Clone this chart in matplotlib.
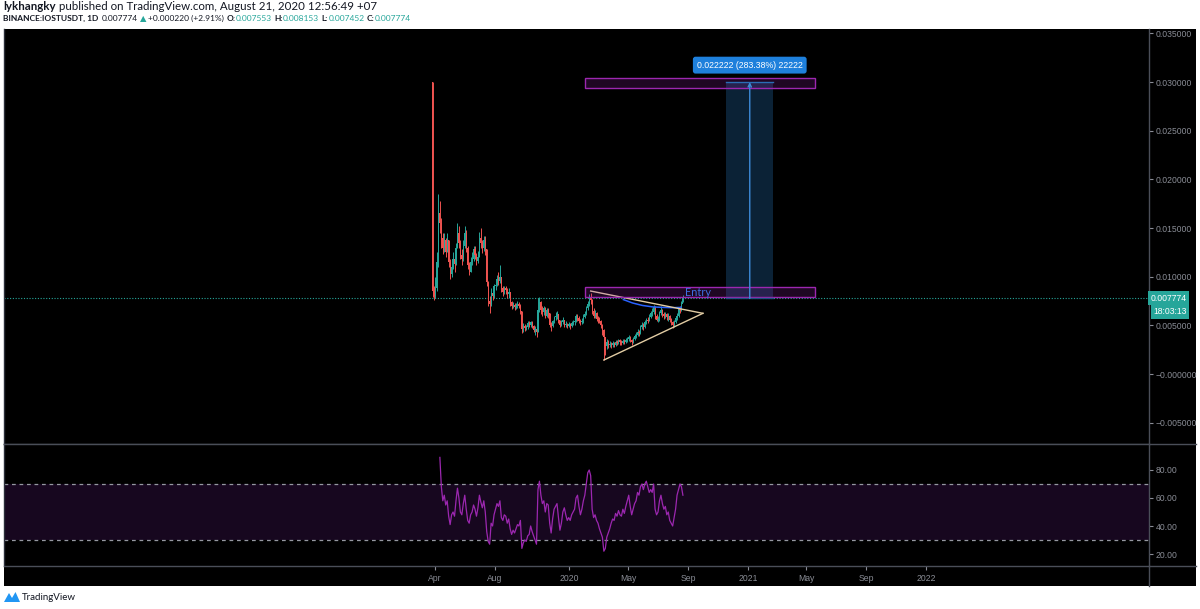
import numpy as np
import pandas as pd
import matplotlib
matplotlib.use("Agg")
import matplotlib.pyplot as plt
import matplotlib.dates as mdates
from matplotlib.patches import Rectangle, Polygon
from matplotlib.transforms import blended_transform_factory

plt.rcParams['font.family'] = ['Lato', 'DejaVu Sans']

# ------------------------------------------------------------------ data
author_line = ("lykhangky", " published on TradingView.com, August 21, 2020 12:56:49 +07")
symbol = "BINANCE:IOSTUSDT, 1D"
last_price = 0.007774
change_txt = "+0.000220 (+2.91%)"
ohlc_txt = [("O:", "0.007553"), ("H:", "0.008153"), ("L:", "0.007452"), ("C:", "0.007774")]
countdown = "18:03:13"

last_date = "2020-08-21"
n_step_days = 3                      # each drawn candle summarises 3 days
first_open_m = 30.0                  # prices in thousandths of USDT
close_m = [8.5, 8.0, 8.8, 11.5, 16.5, 15.5, 14.0, 13.0, 13.8, 12.5,
           13.8, 11.5, 10.3, 11.0, 11.8, 11.3, 13.0, 14.5, 13.5, 12.2,
           11.8, 13.2, 14.5, 13.0, 11.2, 10.5, 11.5, 11.8, 12.8, 12.2,
           11.6, 12.0, 14.0, 13.5, 13.0, 13.8, 12.8, 9.5, 7.5, 7.2,
           8.3, 8.0, 9.0, 9.2, 9.8, 9.6, 10.0, 8.8, 8.4, 8.8,
           8.6, 8.2, 8.4, 7.4, 7.0, 7.1, 6.9, 7.0, 7.2, 7.0,
           6.5, 4.6, 4.9, 4.7, 4.8, 5.2, 5.0, 5.3, 4.9, 4.5,
           4.6, 4.3, 6.6, 7.4, 6.6, 6.4, 6.8, 6.0, 6.6, 6.3,
           5.0, 4.9, 5.4, 5.9, 6.0, 6.2, 5.6, 5.0, 5.3, 5.6,
           5.0, 5.1, 4.9, 5.1, 4.9, 5.2, 5.3, 5.5, 6.0, 5.8,
           5.5, 5.3, 5.4, 5.9, 6.2, 6.8, 7.2, 7.8, 7.6, 6.5,
           6.0, 6.3, 5.7, 5.6, 5.4, 5.0, 4.5, 3.8, 2.9, 3.3,
           3.0, 3.1, 3.0, 3.2, 3.0, 3.3, 3.2, 3.5, 3.3, 3.2,
           3.4, 3.3, 3.5, 3.6, 3.8, 3.5, 3.3, 3.6, 3.9, 4.0,
           4.3, 4.2, 4.8, 5.0, 4.8, 5.3, 5.6, 5.5, 5.9, 6.3,
           6.4, 6.9, 6.0, 5.6, 5.7, 6.3, 6.6, 6.2, 6.0, 6.2,
           5.9, 6.0, 5.6, 5.3, 5.0, 5.3, 5.8, 6.0, 6.7, 6.6,
           7.2, 7.774]
high_m = [30.0, 9.0, 10.0, 12.5, 18.5, 17.8, 16.0, 14.5, 14.5, 14.0,
          14.5, 13.8, 11.8, 11.8, 12.5, 12.2, 13.5, 15.5, 15.2, 13.8,
          12.8, 13.8, 15.2, 14.8, 13.2, 11.5, 12.0, 12.5, 13.2, 13.2,
          12.4, 12.6, 14.6, 15.0, 13.8, 14.2, 14.2, 12.8, 9.6, 8.0,
          8.8, 8.6, 9.3, 9.6, 10.2, 10.5, 11.2, 10.0, 9.0, 9.0,
          9.0, 8.8, 8.8, 8.4, 7.5, 7.4, 7.3, 7.3, 7.5, 7.4,
          7.2, 6.5, 5.2, 5.1, 5.0, 5.4, 5.4, 5.5, 5.4, 5.0,
          4.9, 4.8, 7.8, 7.9, 7.5, 7.0, 7.0, 6.9, 6.8, 6.8,
          6.3, 5.3, 5.6, 6.0, 6.4, 6.5, 6.2, 5.6, 5.6, 5.9,
          5.6, 5.4, 5.2, 5.3, 5.2, 5.4, 5.6, 5.7, 6.2, 6.2,
          6.0, 5.7, 5.8, 6.2, 6.5, 7.0, 7.5, 8.2, 8.3, 7.7,
          6.8, 6.6, 6.4, 6.0, 5.9, 5.6, 5.1, 4.6, 3.8, 3.6,
          3.5, 3.4, 3.3, 3.4, 3.3, 3.5, 3.5, 3.6, 3.6, 3.5,
          3.6, 3.6, 3.7, 3.8, 4.0, 3.9, 3.6, 3.8, 4.1, 4.3,
          4.6, 4.5, 5.0, 5.3, 5.2, 5.6, 5.8, 5.9, 6.2, 6.5,
          6.8, 7.1, 7.0, 6.2, 6.0, 6.5, 7.0, 6.7, 6.4, 6.4,
          6.3, 6.3, 6.1, 5.8, 5.5, 5.6, 6.0, 6.3, 6.9, 7.0,
          7.5, 8.153]
low_m = [7.9, 7.6, 7.8, 8.5, 11.0, 14.5, 13.0, 12.3, 12.5, 12.0,
         12.5, 11.0, 9.8, 10.0, 10.8, 10.5, 11.2, 13.0, 13.0, 11.8,
         11.2, 11.6, 13.0, 12.5, 10.8, 10.2, 10.5, 11.2, 11.6, 11.8,
         11.2, 11.4, 12.0, 13.0, 12.4, 12.6, 12.2, 9.0, 7.0, 6.3,
         7.0, 7.6, 7.8, 8.6, 9.0, 9.2, 9.4, 8.4, 8.0, 8.2,
         8.2, 7.8, 7.8, 7.0, 6.7, 6.8, 6.6, 6.7, 6.8, 6.8,
         6.2, 4.2, 4.3, 4.4, 4.5, 4.6, 4.8, 4.8, 4.7, 4.3,
         4.0, 3.8, 4.3, 6.4, 6.2, 6.0, 6.1, 5.8, 5.9, 5.8,
         4.8, 4.4, 4.8, 5.2, 5.6, 5.7, 5.2, 4.8, 4.9, 5.1,
         4.8, 4.8, 4.7, 4.8, 4.6, 4.8, 5.0, 5.0, 5.3, 5.4,
         5.2, 5.0, 5.1, 5.2, 5.8, 6.1, 6.6, 7.0, 7.2, 6.2,
         5.8, 5.8, 5.4, 5.2, 5.2, 4.7, 4.0, 1.4, 2.0, 2.6,
         2.7, 2.8, 2.7, 2.8, 2.8, 2.9, 3.0, 3.1, 3.0, 3.0,
         3.1, 3.1, 3.2, 3.3, 3.4, 3.3, 3.0, 3.2, 3.5, 3.7,
         3.9, 3.9, 4.1, 4.6, 4.5, 4.7, 5.1, 5.2, 5.4, 5.8,
         6.0, 6.2, 5.7, 5.4, 5.3, 5.5, 6.1, 5.9, 5.7, 5.8,
         5.6, 5.5, 5.3, 5.0, 4.7, 4.8, 5.2, 5.6, 5.9, 6.3,
         6.5, 7.452]

rsi_first_candle = 5
rsi_vals = [89, 68, 58, 62, 55,
            58, 47, 41, 48, 50, 47, 58, 67, 60, 50,
            48, 56, 62, 52, 44, 42, 48, 50, 55, 52,
            47, 53, 62, 57, 53, 58, 50, 36, 29, 27,
            42, 40, 48, 52, 56, 54, 58, 46, 44, 48,
            47, 42, 45, 38, 34, 37, 35, 38, 41, 40,
            44, 24, 28, 30, 29, 33, 34, 40, 36, 33,
            30, 27, 66, 72, 62, 56, 58, 50, 56, 55,
            42, 35, 45, 52, 54, 56, 46, 37, 42, 50,
            53, 48, 44, 46, 44, 48, 50, 52, 60, 62,
            54, 48, 52, 58, 62, 70, 78, 80, 76, 52,
            46, 48, 44, 42, 38, 35, 32, 22, 24, 32,
            35, 38, 42, 45, 44, 49, 47, 51, 48, 47,
            52, 49, 54, 58, 62, 54, 48, 52, 56, 58,
            64, 62, 68, 70, 66, 70, 72, 68, 64, 66,
            64, 70, 52, 48, 50, 58, 62, 56, 52, 54,
            48, 50, 44, 42, 40, 46, 52, 62, 66, 70,
            68, 62]
rsi_upper, rsi_lower = 70, 30

ma_dates = ['2020-04-21', '2020-05-10', '2020-05-30', '2020-06-20', '2020-07-10', '2020-07-30', '2020-08-17']
ma_vals_m = [7.65, 7.3, 7.05, 6.9, 6.85, 6.82, 6.85]

tri_upper = [('2020-02-14', 8.53), ('2020-10-01', 6.24)]
tri_lower = [('2020-03-12', 1.44), ('2020-10-01', 6.24)]
zone_low = ('2020-02-02', '2021-05-19', 7.94, 8.91)
zone_high = ('2020-02-02', '2021-05-19', 29.42, 30.39)
measure = ('2020-11-17', '2021-02-22', '2021-01-05', 7.774, 29.996)
measure_txt = "0.022222 (283.38%) 22222"
entry_txt = ("2020-08-25", 8.36, "Entry")

price_ticks = [-0.005, 0.0, 0.005, 0.010, 0.015, 0.020, 0.025, 0.030, 0.035]
price_labels = ["\u22120.005000", "\u22120.000000", "0.005000", "0.010000", "0.015000",
                "0.020000", "0.025000", "0.030000", "0.035000"]
rsi_ticks = [20, 40, 60, 80]
rsi_labels = ["20.00", "40.00", "60.00", "80.00"]
time_ticks = ['2019-04-01', '2019-08-01', '2020-01-01', '2020-05-01', '2020-09-01',
              '2021-01-01', '2021-05-01', '2021-09-01', '2022-01-01']
time_labels = ['Apr', 'Aug', '2020', 'May', 'Sep', '2021', 'May', 'Sep', '2022']

# ------------------------------------------------------------------ helpers
W, H = 1200, 609
fig = plt.figure(figsize=(W / 100, H / 100), dpi=100)
fig.patch.set_facecolor('white')

def fx(px):
    return px / W

def fy(py):
    return 1 - py / H

UP, DOWN = '#26a69a', '#ef5350'
GRID = '#4a4e58'
AXTXT = '#8a8d96'
DARK = '#131722'
AXFONT = ['Liberation Sans', 'DejaVu Sans']

# black chart panel (behind the axes)
fig.patches.append(Rectangle((fx(4), fy(586)), fx(1196) - fx(4), fy(29) - fy(586),
                             transform=fig.transFigure, facecolor='black', edgecolor='none', zorder=-10))

L, R = 4, 1149
ax = fig.add_axes([fx(L), fy(444), fx(R) - fx(L), fy(29) - fy(444)])
axr = fig.add_axes([fx(L), fy(566), fx(R) - fx(L), fy(444) - fy(566)], sharex=ax)
for a in (ax, axr):
    a.set_facecolor('black')
    for s in a.spines.values():
        s.set_color(GRID)
        s.set_linewidth(1)
    a.spines['left'].set_color('#2a2e39')
ax.spines['top'].set_visible(False)
axr.spines['top'].set_visible(True)

# x scale: Apr 1 2019 sits at pixel 435, 0.488 px per day
anchor = mdates.date2num(pd.Timestamp('2019-04-01'))
ppd = 0.488
ax.set_xlim(anchor - (435 - L) / ppd, anchor + (R - 435) / ppd)

# ------------------------------------------------------------------ candles
n = len(close_m)
dates = pd.date_range(end=last_date, periods=n, freq=f'{n_step_days}D')
dn = mdates.date2num(dates)
c = np.array(close_m) * 1e-3
hi = np.array(high_m) * 1e-3
lo = np.array(low_m) * 1e-3
o = np.concatenate([[first_open_m * 1e-3], c[:-1]])
cols = np.where(c >= o, UP, DOWN)
ax.vlines(dn, lo, hi, colors=cols, linewidth=0.7, zorder=3)
ax.bar(dn, np.maximum(np.abs(c - o), 0.00005), bottom=np.minimum(o, c), width=2.3,
       color=cols, linewidth=0, zorder=3)

ax.plot(mdates.date2num(pd.to_datetime(ma_dates)), np.array(ma_vals_m) * 1e-3,
        color='#2962ff', lw=1.1, zorder=4)

# triangle
for seg in (tri_upper, tri_lower):
    xs = mdates.date2num(pd.to_datetime([p[0] for p in seg]))
    ys = np.array([p[1] for p in seg]) * 1e-3
    ax.plot(xs, ys, color='#e3cda4', lw=1.0, zorder=5)

# zones
for z in (zone_low, zone_high):
    x0, x1 = mdates.date2num(pd.to_datetime([z[0], z[1]]))
    ax.add_patch(Rectangle((x0, z[2] * 1e-3), x1 - x0, (z[3] - z[2]) * 1e-3,
                           facecolor=(0.61, 0.15, 0.69, 0.2), edgecolor='#9c27b0', lw=1.0, zorder=6))

# measurement
m0, m1, mc = mdates.date2num(pd.to_datetime([measure[0], measure[1], measure[2]]))
ax.add_patch(Rectangle((m0, measure[3] * 1e-3), m1 - m0, (measure[4] - measure[3]) * 1e-3,
                       facecolor='#0b2236', edgecolor='none', zorder=2))
ax.plot([m0, m1], [measure[4] * 1e-3] * 2, color='#2a6db5', lw=1, zorder=7)
ax.plot([m0, m1], [measure[3] * 1e-3] * 2, color='#1d4f80', lw=1, zorder=7)
ax.annotate('', xy=(mc, measure[4] * 1e-3), xytext=(mc, measure[3] * 1e-3),
            arrowprops=dict(arrowstyle='->', color='#3d8ad8', lw=1.0, shrinkA=0, shrinkB=0,
                            mutation_scale=6), zorder=7)
ax.text(mc, measure[4] * 1e-3 + 0.00175, measure_txt, ha='center', va='center', color='white',
        fontsize=6.3, family=AXFONT, zorder=8,
        bbox=dict(boxstyle='round,pad=0.45,rounding_size=0.3', facecolor='#1e80dc', edgecolor='none'))

ax.text(mdates.date2num(pd.Timestamp(entry_txt[0])), entry_txt[1] * 1e-3, entry_txt[2],
        color='#3d6fe0', fontsize=7.8, ha='left', va='center', zorder=8)

# current price line + labels
ax.axhline(last_price, color=UP, lw=0.8, ls=(0, (1, 1.5)), zorder=1)
bt = blended_transform_factory(ax.transAxes, ax.transData)
ax.text(1.0015, last_price, f"{last_price:.6f}", transform=bt, ha='left', va='center',
        color='white', fontsize=6.2, family=AXFONT, zorder=9,
        bbox=dict(boxstyle='square,pad=0.3', facecolor=UP, edgecolor='none'))
ax.annotate(countdown, xy=(1.0, last_price), xycoords=bt, xytext=(3.2, -9.4),
            textcoords='offset points', ha='left', va='center', color='white', fontsize=6.2,
            family=AXFONT, zorder=9,
            bbox=dict(boxstyle='square,pad=0.3', facecolor=UP, edgecolor='none'))

ax.set_ylim(-0.00719, 0.03546)
ax.yaxis.tick_right()
ax.set_yticks(price_ticks)
ax.set_yticklabels(price_labels)
ax.tick_params(axis='y', colors=AXTXT, labelsize=6.2, length=3, pad=2, width=0.8)
ax.tick_params(axis='x', bottom=False, labelbottom=False)
for lab in ax.get_yticklabels():
    lab.set_family(AXFONT)

# ------------------------------------------------------------------ RSI
rsi_dn = dn[rsi_first_candle:rsi_first_candle + len(rsi_vals)]
axr.axhspan(rsi_lower, rsi_upper, facecolor='#17071f', edgecolor='none', zorder=0)
for lv in (rsi_upper, rsi_lower):
    axr.axhline(lv, color='#9598a1', lw=0.9, ls=(0, (3, 3)), zorder=1)
axr.plot(rsi_dn, rsi_vals, color='#9c27b0', lw=0.9, zorder=3)
axr.set_ylim(11.43, 98.57)
axr.yaxis.tick_right()
axr.set_yticks(rsi_ticks)
axr.set_yticklabels(rsi_labels)
axr.tick_params(axis='y', colors=AXTXT, labelsize=6.2, length=3, pad=2, width=0.8)
axr.set_xticks(mdates.date2num(pd.to_datetime(time_ticks)))
axr.set_xticklabels(time_labels)
axr.tick_params(axis='x', colors=AXTXT, labelsize=6.2, length=3, pad=3, width=0.8)
for lab in axr.get_yticklabels() + axr.get_xticklabels():
    lab.set_family(AXFONT)

# separators continuing through the axis columns
fig.add_artist(plt.Line2D([fx(R), fx(R)], [fy(586), fy(566)], transform=fig.transFigure,
                          color=GRID, lw=1))
for yy in (444, 566):
    fig.add_artist(plt.Line2D([fx(R), fx(1196)], [fy(yy), fy(yy)], transform=fig.transFigure,
                              color=GRID, lw=1))

# ------------------------------------------------------------------ header
r = fig.canvas.get_renderer()

def seq(y, segs, size, x0=3):
    x = x0
    for s, bold, col, gap in segs:
        x += gap
        t = fig.text(fx(x), fy(y), s, fontsize=size, color=col, va='center', ha='left',
                     fontweight='bold' if bold else 'normal')
        x += t.get_window_extent(renderer=r).width

seq(6.5, [(author_line[0], True, DARK, 0), (author_line[1], False, DARK, 0)], size=8.3)
segs2 = [(symbol, True, DARK, 0), (f"{last_price:.6f}", False, DARK, 3), ("\u25b2", False, UP, 2),
         (change_txt, False, DARK, 2)]
for k, v in ohlc_txt:
    segs2.append((k, True, DARK, 2.5))
    segs2.append((v, False, UP, 0.3))
seq(18.5, segs2, size=6.0)

# footer logo
fig.patches.append(Polygon([[fx(4), fy(602)], [fx(9), fy(593)], [fx(12), fy(598)],
                            [fx(15.5), fy(592)], [fx(20), fy(602)]], closed=True,
                           transform=fig.transFigure, facecolor='#2196f3', edgecolor='none'))
fig.text(fx(22), fy(597.5), "TradingView", fontsize=7, color=DARK, va='center', ha='left')

fig.savefig('out.png', dpi=100, facecolor='white')
